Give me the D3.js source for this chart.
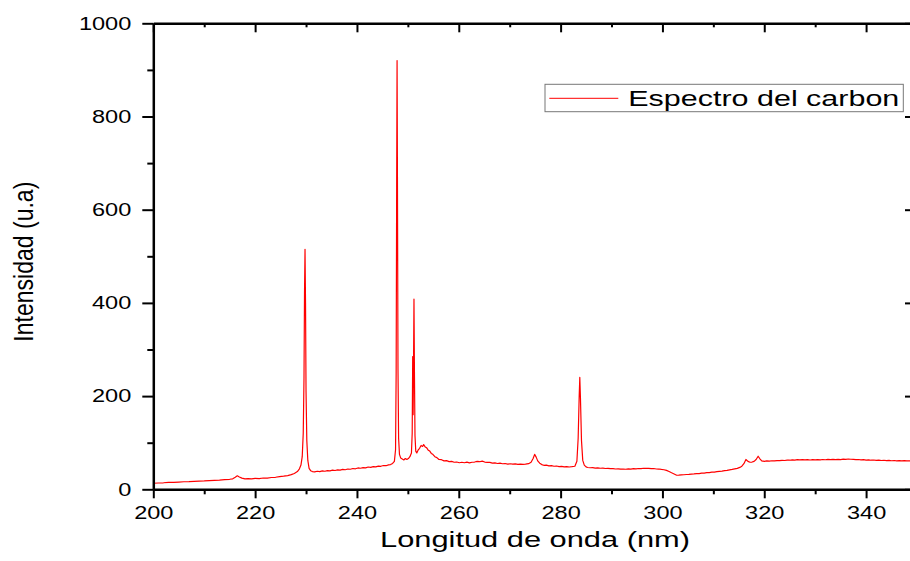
<!DOCTYPE html>
<html>
<head>
<meta charset="utf-8">
<script src="https://cdn.jsdelivr.net/npm/d3@7"></script>
<style>
  html, body { margin: 0; padding: 0; background: #ffffff; }
  svg { display: block; }
  text { font-family: "Liberation Sans", Arial, Helvetica, sans-serif; fill: #000; }
</style>
</head>
<body>
<svg id="chart" width="910" height="561"></svg>
<script>
// Emission spectrum of carbon, pairs of [wavelength (nm), intensity (u.a)], split by region.
const region200to228 = [
  [200, 13], [201, 13.5], [202, 14], [203, 14.8], [204, 15], [205, 15.6], [206, 16.2], [207, 16.5],
  [208, 17.2], [209, 17.6], [210, 18], [211, 18.7], [212, 19.3], [213, 19.8], [214, 20.6], [215, 21.5],
  [215.6, 22.5], [216.1, 26], [216.5, 29], [216.9, 26.5], [217.4, 24], [218, 22.5], [218.6, 23],
  [219.3, 22.4], [220, 23.5], [220.8, 23.1], [221.6, 24.2], [222.4, 24], [223.2, 25.3], [224, 25.8],
  [224.8, 27], [225.6, 28.1], [226.4, 29.5], [227.1, 31.5], [227.7, 34]
];

const peak230 = [
  [228.3, 38], [228.7, 44], [229.0, 52], [229.25, 70], [229.45, 120], [229.6, 240], [229.7, 420],
  [229.8, 515], [229.9, 400], [230.0, 210], [230.15, 105], [230.35, 62], [230.6, 45], [230.9, 40],
  [231.25, 38]
];

const region231to247 = [
  [231.7, 37.5], [232.2, 38.8], [232.7, 38], [233.2, 39.4], [233.7, 38.7], [234.2, 40.2], [234.7, 39.6],
  [235.2, 41], [235.7, 40.4], [236.2, 41.8], [236.7, 41.2], [237.2, 42.6], [237.7, 42], [238.2, 43.5],
  [238.7, 43], [239.2, 44.6], [239.7, 44], [240.2, 45.8], [240.7, 45.2], [241.2, 46.6], [241.7, 46],
  [242.2, 47.8], [242.7, 47.2], [243.2, 48.6], [243.7, 48.2], [244.2, 49.8], [244.7, 49.4], [245.2, 51],
  [245.7, 50.6], [246.2, 52.4], [246.6, 53], [247.0, 55.5], [247.35, 60]
];

const peaks248to251 = [
  [247.58, 85], [247.7, 250], [247.8, 650], [247.88, 920], [247.96, 640], [248.06, 260], [248.18, 110],
  [248.35, 75], [248.6, 67], [248.9, 65], [249.2, 63], [249.5, 66], [249.8, 64], [250.1, 66], [250.4, 70],
  [250.7, 78], [250.85, 120], [250.95, 285], [251.03, 160], [251.11, 260], [251.2, 408], [251.3, 240],
  [251.4, 115], [251.55, 82], [251.75, 78]
];

const region252to283 = [
  [252.0, 84], [252.3, 88], [252.6, 94], [252.9, 92], [253.1, 96], [253.4, 91], [253.7, 89], [254.0, 84],
  [254.3, 82], [254.6, 77], [254.9, 75], [255.3, 70], [255.7, 68], [256.1, 64], [256.6, 63.5], [257.1, 61],
  [257.6, 61.5], [258.1, 59.5], [258.6, 60], [259.1, 58], [259.6, 58.5], [260.1, 57], [260.6, 58],
  [261.1, 57], [261.6, 58.2], [262.1, 56.8], [262.6, 58], [263.1, 58.5], [263.6, 59.8], [264.1, 59.2],
  [264.6, 60.5], [265.1, 58.5], [265.6, 57.6], [266.1, 57.8], [266.6, 56.2], [267.1, 56.8], [267.6, 55.4],
  [268.1, 56], [268.6, 54.8], [269.1, 55.3], [269.6, 54.2], [270.1, 54.8], [270.6, 53.9], [271.1, 54.6],
  [271.6, 53.6], [272.1, 54.2], [272.6, 53.4], [273.1, 54], [273.7, 55], [274.2, 58], [274.6, 66],
  [274.9, 75], [275.2, 69], [275.5, 61], [275.9, 56], [276.3, 53], [276.7, 51.5], [277.2, 51.8],
  [277.7, 50.4], [278.2, 50.8], [278.7, 49.5], [279.2, 50], [279.7, 48.8], [280.2, 49.3], [280.7, 48.2],
  [281.2, 48.8], [281.7, 47.9], [282.2, 48.5], [282.8, 49.5]
];

const peak284 = [
  [283.2, 60], [283.45, 110], [283.65, 200], [283.77, 240], [283.9, 195], [284.1, 105], [284.35, 62],
  [284.65, 52], [285.0, 48]
];

const region285to315 = [
  [285.3, 46.8], [285.8, 46.2], [286.3, 46.6], [286.8, 45.6], [287.3, 46], [287.8, 45.2], [288.3, 45.6],
  [288.8, 44.6], [289.3, 45], [289.8, 44.2], [290.3, 44.5], [290.8, 43.6], [291.3, 44], [291.8, 43.2],
  [292.3, 43.6], [292.8, 43], [293.3, 43.8], [293.8, 43.4], [294.3, 44.2], [294.8, 43.8], [295.3, 44.6],
  [295.8, 44.4], [296.3, 45.2], [296.8, 44.8], [297.3, 45], [297.8, 44.2], [298.3, 44.6], [298.8, 43.6],
  [299.3, 43.5], [299.8, 42.6], [300.3, 42], [300.8, 40.5], [301.3, 38.2], [301.8, 35.5], [302.3, 33],
  [302.8, 30.2], [303.2, 30.5], [303.7, 31], [304.2, 31.2], [304.7, 31.8], [305.2, 32], [305.7, 32.7],
  [306.2, 32.9], [306.7, 33.6], [307.2, 33.8], [307.7, 34.6], [308.2, 34.8], [308.7, 35.6], [309.2, 35.8],
  [309.7, 36.7], [310.2, 37], [310.7, 37.8], [311.2, 38.4], [311.7, 39], [312.2, 40], [312.7, 40.6],
  [313.2, 41.8], [313.7, 42.6], [314.2, 43.8], [314.7, 45], [315.2, 47]
];

const region315to350 = [
  [315.6, 49.5], [316.0, 55], [316.4, 64], [316.8, 60], [317.2, 58], [317.6, 58.5], [318.0, 60],
  [318.4, 64], [318.8, 71], [319.1, 66], [319.5, 61], [320.0, 60], [320.5, 60.8], [321.0, 60.4],
  [321.5, 61.2], [322.0, 60.8], [322.5, 61.6], [323.0, 61.4], [323.5, 62.2], [324.0, 61.8], [324.5, 62.6],
  [325.0, 62.4], [325.5, 63.2], [326.0, 62.6], [326.5, 63.6], [327.0, 63], [327.5, 63.8], [328.0, 63.2],
  [328.5, 63.6], [329.0, 62.9], [329.5, 63.5], [330.0, 63.1], [330.5, 63.8], [331.0, 63.2], [331.5, 64],
  [332.0, 63.4], [332.5, 64.1], [333.0, 63.5], [333.5, 64.3], [334.0, 63.7], [334.5, 64.4], [335.0, 63.8],
  [335.5, 64.6], [336.0, 64.2], [336.5, 65], [337.0, 64.5], [337.5, 64.2], [338.0, 63.6], [338.5, 64],
  [339.0, 63.2], [339.5, 63.6], [340.0, 62.8], [340.5, 63.2], [341.0, 62.4], [341.5, 62.9], [342.0, 62.1],
  [342.5, 62.6], [343.0, 61.8], [343.5, 62.3], [344.0, 61.6], [344.5, 62], [345.0, 61.3], [345.5, 61.8],
  [346.0, 61.1], [346.5, 61.6], [347.0, 60.9], [347.5, 61.4], [348.0, 60.8], [348.5, 61.2], [349.0, 60.7],
  [349.5, 61.1], [350.0, 60.8]
];

// Axis ticks
const xMajorTicks = [200, 220, 240, 260, 280, 300, 320, 340];
const xMinorTicks = [210, 230, 250, 270, 290, 310, 330, 350];
const yMajorTicks = [0, 200, 400, 600, 800, 1000];
const yMinorTicks = [100, 300, 500, 700, 900];

const seriesName = "Espectro del carbon";
const xTitle = "Longitud de onda (nm)";
const yTitle = "Intensidad (u.a)";

const spectrum = [].concat(region200to228, peak230, region231to247, peaks248to251,
                           region252to283, peak284, region285to315, region315to350);

const svg = d3.select("#chart");
const plotLeft = 153.3, plotTop = 23.3, plotBottom = 489.3, plotRight = 917;

const x = d3.scaleLinear().domain([200, 350]).range([plotLeft, plotRight]);
const y = d3.scaleLinear().domain([0, 1000]).range([plotBottom, plotTop]);
const plainNumber = d3.format("d");

svg.append("defs").append("clipPath").attr("id", "plotClip")
  .append("rect").attr("x", plotLeft).attr("y", plotTop - 1)
  .attr("width", plotRight - plotLeft).attr("height", plotBottom - plotTop + 1);

// Spectrum line
svg.append("path")
  .datum(spectrum)
  .attr("clip-path", "url(#plotClip)")
  .attr("fill", "none")
  .attr("stroke", "#ff0000")
  .attr("stroke-width", 1.2)
  .attr("stroke-linejoin", "round")
  .attr("d", d3.line().x(d => x(d[0])).y(d => y(d[1])));

function styleAxis(g) {
  g.select(".domain").attr("stroke", "#000").attr("stroke-width", 2.5);
  g.selectAll(".tick line").attr("stroke", "#000").attr("stroke-width", 2);
}

function digitsLength(d) { return plainNumber(d).length * 13.1; }

// Bottom axis: labelled majors and minors
const gBottom = svg.append("g").attr("transform", `translate(0,${plotBottom})`)
  .call(d3.axisBottom(x).tickValues(xMajorTicks).tickFormat(plainNumber)
    .tickSize(9).tickPadding(8).tickSizeOuter(0));
gBottom.selectAll(".tick text")
  .attr("font-size", 18.5)
  .attr("textLength", d => digitsLength(d))
  .attr("lengthAdjust", "spacingAndGlyphs");
styleAxis(gBottom);
svg.append("g").attr("transform", `translate(0,${plotBottom})`)
  .call(d3.axisBottom(x).tickValues(xMinorTicks).tickSize(5).tickFormat("").tickSizeOuter(0))
  .call(g => g.select(".domain").remove())
  .call(styleAxis);

// Top mirror axis: inward ticks, no labels
svg.append("g").attr("transform", `translate(0,${plotTop})`)
  .call(d3.axisTop(x).tickValues(xMajorTicks).tickSize(-9).tickFormat("").tickSizeOuter(0))
  .call(styleAxis);
svg.append("g").attr("transform", `translate(0,${plotTop})`)
  .call(d3.axisTop(x).tickValues(xMinorTicks).tickSize(-4).tickFormat("").tickSizeOuter(0))
  .call(g => g.select(".domain").remove())
  .call(styleAxis);

// Left axis
const gLeft = svg.append("g").attr("transform", `translate(${plotLeft},0)`)
  .call(d3.axisLeft(y).tickValues(yMajorTicks).tickFormat(plainNumber)
    .tickSize(11).tickPadding(11).tickSizeOuter(0));
gLeft.selectAll(".tick text")
  .attr("font-size", 18)
  .attr("textLength", d => digitsLength(d))
  .attr("lengthAdjust", "spacingAndGlyphs");
styleAxis(gLeft);
svg.append("g").attr("transform", `translate(${plotLeft},0)`)
  .call(d3.axisLeft(y).tickValues(yMinorTicks).tickSize(6).tickFormat("").tickSizeOuter(0))
  .call(g => g.select(".domain").remove())
  .call(styleAxis);

// Right mirror axis: inward ticks
svg.append("g").attr("transform", `translate(${plotRight},0)`)
  .call(d3.axisRight(y).tickValues(yMajorTicks).tickSize(-12).tickFormat("").tickSizeOuter(0))
  .call(styleAxis);
svg.append("g").attr("transform", `translate(${plotRight},0)`)
  .call(d3.axisRight(y).tickValues(yMinorTicks).tickSize(-6).tickFormat("").tickSizeOuter(0))
  .call(g => g.select(".domain").remove())
  .call(styleAxis);

svg.selectAll(".tick text").attr("fill", "#000").attr("font-family", '"Liberation Sans", Arial, sans-serif');

// Axis titles
svg.append("text")
  .attr("x", 535).attr("y", 547)
  .attr("text-anchor", "middle")
  .attr("font-size", 22)
  .attr("textLength", 310)
  .attr("lengthAdjust", "spacingAndGlyphs")
  .text(xTitle);

svg.append("text")
  .attr("transform", "translate(33,261.7) rotate(-90) scale(1,1.3)")
  .attr("text-anchor", "middle")
  .attr("font-size", 21)
  .attr("textLength", 160)
  .attr("lengthAdjust", "spacingAndGlyphs")
  .text(yTitle);

// Legend
const legend = svg.append("g");
legend.append("rect")
  .attr("x", 545).attr("y", 84.3).attr("width", 358.3).attr("height", 27.4)
  .attr("fill", "#fff").attr("stroke", "#777").attr("stroke-width", 1);
legend.append("line")
  .attr("x1", 549.3).attr("x2", 618.3).attr("y1", 98.3).attr("y2", 98.3)
  .attr("stroke", "#ff0000").attr("stroke-width", 1);
legend.append("text")
  .attr("x", 628.3).attr("y", 106)
  .attr("font-size", 22.4)
  .attr("textLength", 271)
  .attr("lengthAdjust", "spacingAndGlyphs")
  .text(seriesName);
</script>
</body>
</html>
